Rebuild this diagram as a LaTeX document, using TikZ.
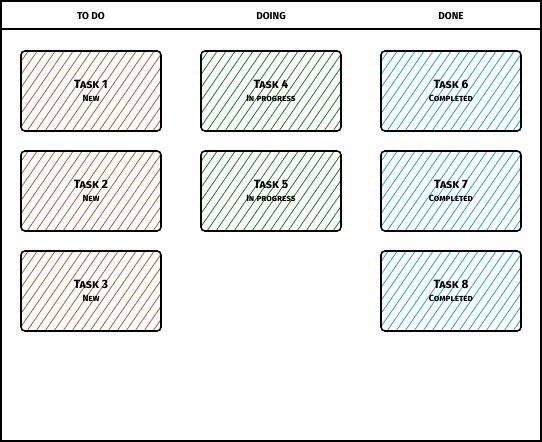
\documentclass[tikz,border=0pt]{standalone}
\usepackage{fontspec}
\usepackage{xcolor}
\usepackage{tikz}

\newfontfamily\sketchfont{Fira Sans}[Letters=SmallCaps]

\definecolor{todocol}{RGB}{178,92,52}
\definecolor{doingcol}{RGB}{32,122,32}
\definecolor{donecol}{RGB}{27,161,226}

\tikzset{
  card/.style={draw, line width=1.6pt, rounded corners=4pt,
    minimum width=140pt, minimum height=80pt, align=center,
    font=\sketchfont\bfseries,
    path picture={
      \foreach \d in {-66,-57,...,150}
        \draw[#1, line width=0.8pt] ([xshift=\d pt]path picture bounding box.south west) -- ++(58,-84);
    }},
  head/.style={font=\sketchfont\bfseries},
}

\begin{document}
\begin{tikzpicture}[x=1pt,y=-1pt]
  \useasboundingbox (0,0) rectangle (542,442);
  % board
  \draw[line width=1.6pt] (1,1) rectangle (541,441);
  \draw[line width=1.2pt] (1,29) -- (541,29);
  \node[head] (htodo) at (91,16) {TO DO};
  \node[head] (hdoing) at (271,16) {DOING};
  \node[head] (hdone) at (451,16) {DONE};
  % to do
  \node[card=todocol] (t1) at (91,91) {\large Task 1\\[1.5pt]\small New};
  \node[card=todocol] (t2) at (91,191) {\large Task 2\\[1.5pt]\small New};
  \node[card=todocol] (t3) at (91,291) {\large Task 3\\[1.5pt]\small New};
  % doing
  \node[card=doingcol] (t4) at (271,91) {\large Task 4\\[1.5pt]\small In progress};
  \node[card=doingcol] (t5) at (271,191) {\large Task 5\\[1.5pt]\small In progress};
  % done
  \node[card=donecol] (t6) at (451,91) {\large Task 6\\[1.5pt]\small Completed};
  \node[card=donecol] (t7) at (451,191) {\large Task 7\\[1.5pt]\small Completed};
  \node[card=donecol] (t8) at (451,291) {\large Task 8\\[1.5pt]\small Completed};
\end{tikzpicture}
\end{document}
